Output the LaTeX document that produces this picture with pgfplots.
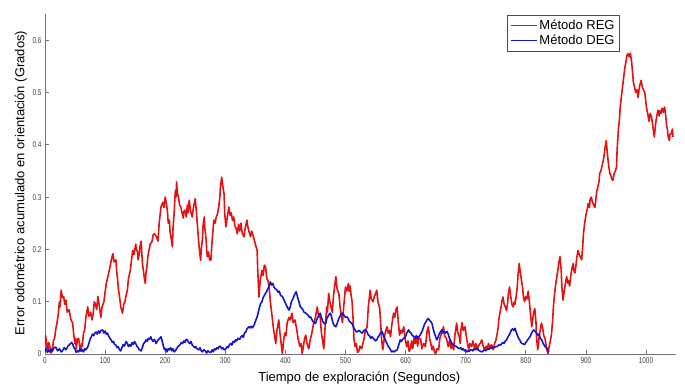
\documentclass[border=0pt]{standalone}
\usepackage{fontspec}
\setmainfont{Liberation Sans}
\usepackage{graphicx}
\usepackage{pgfplots}
\pgfplotsset{compat=1.18}
\definecolor{regred}{RGB}{228,18,18}
\definecolor{degblue}{RGB}{22,22,200}
\pgfplotstableread{
x y
0 0.02
1 0.035
2 0.027
3 0.012
5 0.01
6 0.022
8 0.015
10 0.002
12 0.005
14 0.025
16 0.03
18 0.048
20 0.06
22 0.075
24 0.1
25 0.09
27 0.122
29 0.108
31 0.11
33 0.095
35 0.103
37 0.08
40 0.085
43 0.066
46 0.059
48 0.035
50 0.02
51 0.03
52 0.01
54 0.028
56 0.03
58 0.012
60 0.005
61 0.02
62 0.015
64 0.04
66 0.046
68 0.07
71 0.09
73 0.072
76 0.08
78 0.065
80 0.075
82 0.1
84 0.095
86 0.085
88 0.11
90 0.095
93 0.07
95 0.09
98 0.1
100 0.118
102 0.135
105 0.15
108 0.165
110 0.178
113 0.192
115 0.176
118 0.18
119 0.162
121 0.14
122 0.125
124 0.11
126 0.09
129 0.078
131 0.095
133 0.1
135 0.112
137 0.122
139 0.145
142 0.16
144 0.18
146 0.198
148 0.19
151 0.21
152 0.2
154 0.195
155 0.18
157 0.192
158 0.205
160 0.216
162 0.175
165 0.148
166 0.14
167 0.135
168 0.155
170 0.17
171 0.185
173 0.198
175 0.21
178 0.215
180 0.228
182 0.23
185 0.225
188 0.216
190 0.25
193 0.281
196 0.29
198 0.28
200 0.30
202 0.288
204 0.27
205 0.25
207 0.256
208 0.235
210 0.22
211 0.212
212 0.205
213 0.24
215 0.27
216 0.295
217 0.313
218 0.3
219 0.329
220 0.31
222 0.3
224 0.285
226 0.281
228 0.27
230 0.26
231 0.272
233 0.275
235 0.262
237 0.285
238 0.27
240 0.294
242 0.275
245 0.262
247 0.28
250 0.297
252 0.27
254 0.24
256 0.21
259 0.179
260 0.2
262 0.22
263 0.245
265 0.262
266 0.24
268 0.22
269 0.2
270 0.186
272 0.195
274 0.18
276 0.179
278 0.215
281 0.256
283 0.25
285 0.262
287 0.268
289 0.28
291 0.3
292 0.32
294 0.338
296 0.32
298 0.306
299 0.27
301 0.243
303 0.26
306 0.281
308 0.265
310 0.27
312 0.255
314 0.262
316 0.245
318 0.24
320 0.23
322 0.248
324 0.235
326 0.25
328 0.232
331 0.224
333 0.24
336 0.256
338 0.24
340 0.232
342 0.224
344 0.235
347 0.224
350 0.21
353 0.198
354 0.16
356 0.109
358 0.14
361 0.16
363 0.15
365 0.17
367 0.167
369 0.145
371 0.14
373 0.128
375 0.1
378 0.071
380 0.05
382 0.035
384 0.02
386 0.045
389 0.065
391 0.04
393 0.02
395 0.0
397 0.025
399 0.04
401 0.035
403 0.06
406 0.07
408 0.065
411 0.078
413 0.06
416 0.065
419 0.046
421 0.03
424 0.015
426 0.02
428 0.0
430 0.015
432 0.03
434 0.036
436 0.02
439 0.01
441 0.025
444 0.04
447 0.059
450 0.07
453 0.09
455 0.075
458 0.07
460 0.04
462 0.025
464 0.01
466 0.05
469 0.09
470 0.08
472 0.116
474 0.1
476 0.09
478 0.08
480 0.11
482 0.13
484 0.148
486 0.125
489 0.115
491 0.09
493 0.075
495 0.06
497 0.09
500 0.128
502 0.12
505 0.135
506 0.12
508 0.13
509 0.115
511 0.10
513 0.06
514 0.03
516 0.014
518 0.02
520 0.003
522 0.005
524 0.015
527 0.01
529 0.02
531 0.03
533 0.045
536 0.052
538 0.09
539 0.1
541 0.122
543 0.105
546 0.1
548 0.11
550 0.115
552 0.122
554 0.1
557 0.087
559 0.05
560 0.03
562 0.008
564 0.025
566 0.04
569 0.052
571 0.04
573 0.045
575 0.033
577 0.055
580 0.078
582 0.07
584 0.085
586 0.09
588 0.06
590 0.036
592 0.045
594 0.04
597 0.052
599 0.03
602 0.014
604 0.025
606 0.005
608 0.01
610 0.025
612 0.01
614 0.03
616 0.02
618 0.035
620 0.015
622 0.03
625 0.03
627 0.01
630 0.02
633 0.014
635 0.035
636 0.045
638 0.052
640 0.03
642 0.02
644 0.008
646 0.015
648 0.005
650 0.0
652 0.01
655 0.008
657 0.03
660 0.04
663 0.052
665 0.035
668 0.03
671 0.014
673 0.025
676 0.01
678 0.02
680 0.008
682 0.035
685 0.059
687 0.04
689 0.035
691 0.02
692 0.045
694 0.06
696 0.045
699 0.052
701 0.035
703 0.02
705 0.008
707 0.02
710 0.014
712 0.025
715 0.01
717 0.02
719 0.008
721 0.015
724 0.02
727 0.027
729 0.015
732 0.008
734 0.015
736 0.01
738 0.02
740 0.012
743 0.018
746 0.008
748 0.02
750 0.025
752 0.036
754 0.05
755 0.065
757 0.078
759 0.09
760 0.1
762 0.109
764 0.095
766 0.09
768 0.083
770 0.1
771 0.115
773 0.128
775 0.11
777 0.095
779 0.09
781 0.1
782 0.095
784 0.109
786 0.13
787 0.15
789 0.173
791 0.155
793 0.14
795 0.125
796 0.11
798 0.10
800 0.11
802 0.105
804 0.12
806 0.1
808 0.075
810 0.052
812 0.07
813 0.08
815 0.087
817 0.06
818 0.03
820 0.008
822 0.03
824 0.045
826 0.059
828 0.05
830 0.035
832 0.03
834 0.015
837 0.0
839 0.015
841 0.025
843 0.04
845 0.07
846 0.09
848 0.116
850 0.135
852 0.15
854 0.165
855 0.175
857 0.186
859 0.16
860 0.13
862 0.103
864 0.12
866 0.135
868 0.148
870 0.135
871 0.14
873 0.13
875 0.15
877 0.165
879 0.173
880 0.16
882 0.155
884 0.175
885 0.185
887 0.198
889 0.19
891 0.185
893 0.18
895 0.21
896 0.23
898 0.25
900 0.265
902 0.275
904 0.288
906 0.28
907 0.295
909 0.30
911 0.29
913 0.285
915 0.28
917 0.3
918 0.31
920 0.32
922 0.33
923 0.345
925 0.35
927 0.36
929 0.37
931 0.385
932 0.395
934 0.408
936 0.38
938 0.36
940 0.345
942 0.34
943 0.335
945 0.332
947 0.345
949 0.35
951 0.357
952 0.39
954 0.427
956 0.45
957 0.47
959 0.491
961 0.51
963 0.53
965 0.548
967 0.56
968 0.57
970 0.574
972 0.568
974 0.575
976 0.56
978 0.535
979 0.52
981 0.51
983 0.5
985 0.505
987 0.49
989 0.51
990 0.515
992 0.523
994 0.51
996 0.505
998 0.5
1000 0.48
1001 0.47
1003 0.459
1005 0.445
1007 0.46
1009 0.454
1011 0.44
1012 0.43
1014 0.415
1016 0.44
1018 0.455
1020 0.466
1022 0.455
1023 0.465
1025 0.46
1027 0.47
1029 0.462
1031 0.472
1033 0.455
1034 0.44
1036 0.427
1037 0.415
1039 0.408
1040 0.42
1042 0.421
1044 0.43
1045 0.415
}\regdata
\pgfplotstableread{
x y
0 0.005
2 0.01
4 0.003
6 0.008
8 0.004
10 0.01
12 0.005
15 0.012
18 0.013
21 0.006
24 0.01
27 0.004
29 0.006
32 0.012
35 0.008
38 0.015
41 0.018
44 0.022
46 0.02
48 0.012
50 0.01
52 0.003
54 0.006
56 0.004
58 0.01
60 0.006
62 0.008
64 0.004
66 0.01
68 0.008
71 0.013
73 0.02
75 0.028
77 0.033
79 0.038
81 0.035
83 0.04
85 0.042
87 0.038
89 0.044
91 0.04
93 0.045
96 0.046
98 0.04
100 0.044
102 0.038
104 0.04
106 0.034
108 0.03
110 0.027
112 0.022
114 0.024
116 0.018
118 0.017
120 0.012
122 0.014
124 0.008
126 0.006
128 0.012
130 0.018
132 0.015
135 0.024
137 0.02
139 0.014
141 0.018
143 0.015
145 0.022
147 0.018
149 0.024
151 0.02
153 0.015
155 0.012
157 0.008
160 0.006
162 0.012
164 0.02
166 0.022
168 0.027
170 0.024
172 0.03
174 0.028
176 0.033
178 0.027
180 0.024
182 0.028
185 0.02
187 0.025
189 0.028
191 0.03
193 0.033
195 0.025
197 0.015
199 0.008
201 0.01
203 0.004
205 0.01
207 0.008
209 0.012
211 0.006
213 0.01
215 0.004
218 0.008
220 0.012
222 0.015
225 0.018
227 0.022
229 0.02
231 0.025
233 0.022
235 0.028
237 0.027
239 0.022
241 0.02
243 0.024
245 0.017
247 0.015
249 0.012
251 0.014
253 0.01
256 0.008
258 0.012
260 0.006
262 0.004
264 0.008
267 0.006
269 0.002
271 0.006
273 0.004
276 0.003
278 0.008
280 0.004
282 0.01
284 0.008
286 0.012
288 0.01
290 0.015
292 0.014
294 0.01
296 0.012
298 0.008
301 0.01
303 0.014
305 0.012
307 0.018
309 0.02
311 0.017
313 0.024
315 0.022
317 0.027
319 0.025
321 0.03
324 0.028
326 0.033
328 0.035
330 0.032
332 0.04
334 0.042
336 0.048
339 0.052
341 0.05
343 0.053
345 0.05
348 0.055
350 0.062
353 0.071
355 0.08
357 0.09
359 0.097
361 0.1
363 0.108
365 0.112
367 0.116
369 0.12
371 0.125
373 0.13
375 0.138
377 0.132
379 0.135
381 0.128
383 0.125
386 0.122
388 0.118
390 0.12
392 0.112
395 0.11
397 0.105
399 0.1
401 0.095
403 0.09
406 0.084
408 0.09
410 0.1
412 0.104
414 0.11
416 0.115
418 0.119
420 0.11
422 0.102
425 0.09
427 0.088
429 0.085
431 0.08
434 0.078
436 0.076
438 0.074
440 0.07
442 0.071
444 0.066
446 0.062
448 0.06
450 0.058
452 0.065
454 0.07
456 0.075
458 0.078
460 0.07
462 0.062
465 0.058
467 0.058
469 0.068
471 0.072
473 0.076
475 0.078
477 0.07
479 0.06
481 0.055
484 0.052
486 0.058
488 0.065
490 0.07
492 0.075
494 0.078
496 0.077
498 0.073
500 0.07
503 0.071
505 0.066
507 0.062
509 0.06
511 0.058
513 0.052
515 0.048
517 0.044
519 0.042
521 0.044
523 0.045
525 0.042
528 0.04
530 0.044
532 0.046
534 0.045
536 0.042
538 0.036
540 0.035
542 0.03
544 0.033
546 0.03
548 0.028
550 0.025
552 0.027
554 0.032
556 0.035
558 0.04
561 0.043
563 0.036
565 0.03
567 0.025
569 0.02
571 0.015
573 0.012
575 0.008
577 0.004
579 0.006
581 0.004
583 0.006
586 0.008
588 0.015
590 0.022
591 0.027
593 0.024
595 0.028
597 0.03
600 0.033
602 0.04
605 0.046
607 0.042
609 0.04
611 0.036
614 0.033
616 0.03
618 0.035
620 0.03
622 0.033
624 0.036
626 0.04
628 0.045
630 0.052
632 0.058
634 0.062
636 0.066
638 0.068
640 0.064
642 0.062
644 0.058
646 0.048
648 0.04
650 0.033
652 0.027
654 0.032
656 0.038
658 0.042
660 0.046
662 0.04
664 0.044
666 0.04
669 0.043
671 0.038
673 0.03
675 0.025
677 0.02
679 0.018
681 0.016
683 0.015
685 0.014
687 0.012
690 0.01
692 0.012
694 0.008
696 0.01
698 0.006
700 0.008
702 0.004
704 0.006
706 0.005
708 0.008
710 0.008
712 0.006
714 0.01
716 0.008
719 0.011
721 0.008
723 0.006
725 0.005
727 0.004
729 0.006
731 0.008
733 0.006
735 0.008
737 0.01
739 0.009
741 0.012
743 0.011
745 0.013
747 0.012
750 0.014
752 0.014
754 0.016
756 0.018
758 0.017
760 0.02
762 0.022
764 0.02
766 0.025
768 0.027
770 0.032
772 0.036
774 0.04
776 0.046
778 0.048
780 0.045
782 0.049
784 0.042
786 0.036
788 0.03
790 0.027
792 0.022
794 0.02
796 0.019
798 0.018
800 0.022
802 0.025
805 0.03
807 0.033
809 0.038
811 0.043
813 0.046
815 0.044
818 0.04
820 0.036
822 0.038
824 0.03
826 0.028
829 0.02
831 0.016
833 0.013
835 0.011
837 0.006
838 0.004
}\degdata
\begin{document}
\begin{tikzpicture}
\useasboundingbox (-45pt,-31pt) rectangle (640pt,354pt);
\begin{axis}[
  at={(0pt,0pt)}, anchor=south west,
  scale only axis, width=631pt, height=340pt,
  xmin=0, xmax=1050, ymin=0, ymax=0.65,
  axis x line*=bottom, axis y line*=left,
  axis line style={black!55, line width=0.6pt, -},
  every outer x axis line/.append style={-},
  every outer y axis line/.append style={-},
  xtick={0,100,200,300,400,500,600,700,800,900,1000},
  ytick={0,0.1,0.2,0.3,0.4,0.5,0.6},
  tick align=inside, major tick length=4pt,
  tick style={black!55, line width=0.6pt},
  xticklabel={\scalebox{0.75}[1]{\pgfmathprintnumber[1000 sep={},assume math mode=true]{\tick}}},
  yticklabel={\scalebox{0.75}[1]{\pgfmathprintnumber[fixed,precision=1,assume math mode=true]{\tick}}},
  tick label style={font=\fontsize{8.5}{9}\selectfont, text=black!75},
  xlabel={Tiempo de exploración (Segundos)},
  ylabel={Error odométrico acumulado en orientación (Grados)},
  xlabel style={at={(axis description cs:0.498,-0.07)}, anchor=center, font=\fontsize{13}{15}\selectfont},
  ylabel style={at={(axis description cs:-0.038,0.503)}, anchor=center, font=\fontsize{13}{15}\selectfont},
  legend style={at={(axis description cs:0.911,0.997)}, anchor=north east, draw=black!70, line width=0.5pt,
    font=\fontsize{13}{15}\selectfont, inner xsep=3pt, inner ysep=3pt, row sep=0pt},
  legend cell align=left,
  legend image code/.code={\draw[#1, line width=1pt] (0pt,0pt) -- (26pt,0pt);},
]
\addplot[regred, line width=1.6pt, line join=round] table[x=x,y=y] {\regdata};
\addlegendentry{Método REG}
\addplot[degblue, line width=1.6pt, line join=round] table[x=x,y=y] {\degdata};
\addlegendentry{Método DEG}
\end{axis}
\end{tikzpicture}
\end{document}
